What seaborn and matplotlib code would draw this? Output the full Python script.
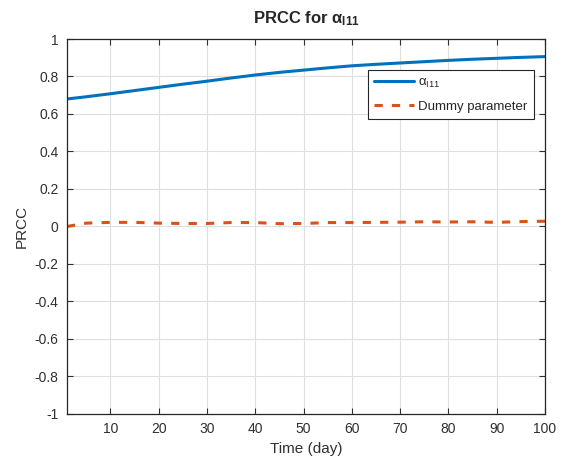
import numpy as np
import pandas as pd
import seaborn as sns, matplotlib.pyplot as plt

days = [1, 5, 10, 15, 20, 25, 30, 35, 40, 45, 50, 55, 60, 65, 70, 75, 80, 85, 90, 95, 100]
prcc_alpha = [0.680, 0.692, 0.708, 0.725, 0.742, 0.759, 0.775, 0.792, 0.808, 0.822, 0.834,
              0.846, 0.857, 0.865, 0.872, 0.879, 0.886, 0.892, 0.897, 0.902, 0.906]
prcc_dummy = [0.000, 0.018, 0.022, 0.022, 0.018, 0.016, 0.016, 0.021, 0.021, 0.015, 0.016,
              0.021, 0.021, 0.022, 0.023, 0.025, 0.024, 0.025, 0.022, 0.026, 0.028]
x_ticks = [10, 20, 30, 40, 50, 60, 70, 80, 90, 100]
y_ticks = [-1, -0.8, -0.6, -0.4, -0.2, 0, 0.2, 0.4, 0.6, 0.8, 1]

sns.set_theme(style="ticks")
plt.rcParams['font.family'] = ['Liberation Sans', 'DejaVu Sans']
plt.rcParams['mathtext.fontset'] = 'custom'
plt.rcParams['mathtext.rm'] = 'Liberation Sans'
plt.rcParams['mathtext.it'] = 'Liberation Sans'
plt.rcParams['mathtext.bf'] = 'Liberation Sans:bold'

df = pd.DataFrame({"day": days, "alpha": prcc_alpha, "dummy": prcc_dummy})

fig = plt.figure(figsize=(5.61, 4.61), dpi=100)
ax = fig.add_axes([0.1194, 0.102, 0.852, 0.8134])

sns.lineplot(data=df, x="day", y="alpha", ax=ax, color="#0072BD", lw=2.2,
             label=r"$\mathregular{\alpha_{I11}}$")
sns.lineplot(data=df, x="day", y="dummy", ax=ax, color="#D95319", lw=2.2,
             linestyle=(0, (2.7, 3.0)), label="Dummy parameter")

ax.set_xlim(1, 100)
ax.set_ylim(-1, 1)
ax.set_xticks(x_ticks)
ax.set_yticks(y_ticks)
ax.set_yticklabels([f"{v:g}" for v in y_ticks])
ax.grid(True, color="#DFDFDF", lw=0.8)
ax.set_axisbelow(True)
ax.tick_params(direction="in", top=True, right=True, length=4, width=0.8,
               labelsize=10, colors="#303030", pad=6)
for s in ax.spines.values():
    s.set_color("#262626")
    s.set_linewidth(0.9)

ax.set_xlabel("Time (day)", fontsize=11, color="#303030", labelpad=4)
ax.set_ylabel("PRCC", fontsize=11, color="#303030", labelpad=4)
ax.set_title(r"PRCC for $\mathbf{\alpha_{I11}}$", fontsize=12, fontweight="bold", pad=11)

leg = ax.legend(loc="upper right", bbox_to_anchor=(0.99, 0.935), fontsize=9.5,
                frameon=True, fancybox=False, edgecolor="#262626", framealpha=1,
                handlelength=3.0, borderpad=0.5, labelspacing=0.8, handletextpad=0.3)
leg.get_frame().set_linewidth(0.8)

fig.savefig("out.png", dpi=100, facecolor="white")
